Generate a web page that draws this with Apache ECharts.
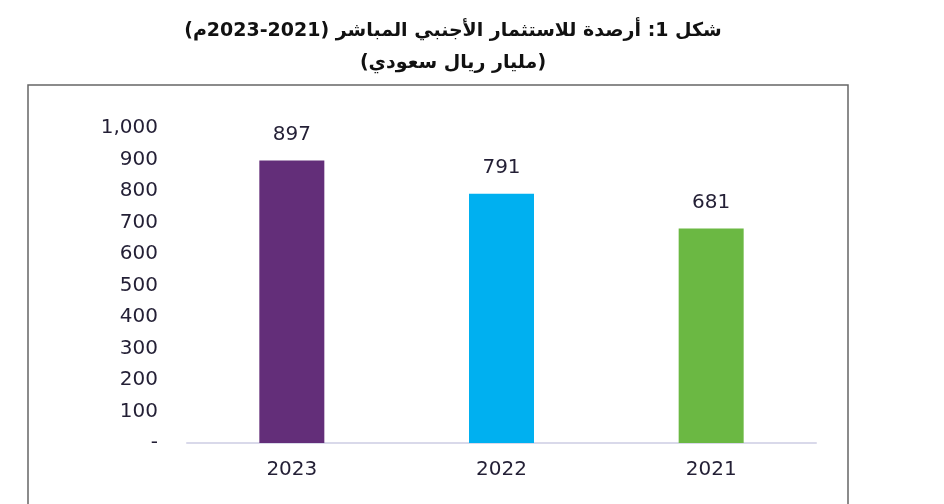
<!DOCTYPE html>
<html><head><meta charset="utf-8">
<script src="https://cdn.jsdelivr.net/npm/echarts@6/dist/echarts.min.js"></script>
<style>html,body{margin:0;padding:0;background:#fff}#c{width:944px;height:504px}</style>
</head><body><div id="c"></div>
<script>
const categories = ['2023', '2022', '2021'];
const values = [897, 791, 681];
const barColors = ['#632e79', '#00b0f0', '#6bb843'];
const yTicks = { min: 0, max: 1000, interval: 100 };
const titleLines = ['شكل 1: أرصدة للاستثمار الأجنبي المباشر (2021-2023م)', '(مليار ريال سعودي)'];

const chart = echarts.init(document.getElementById('c'), null, { renderer: 'canvas' });
chart.setOption({
  animation: false,
  backgroundColor: '#ffffff',
  graphic: [{
    type: 'rect', shape: { x: 28, y: 85, width: 820, height: 440 },
    style: { fill: 'none', stroke: '#666', lineWidth: 1.5 }, z: 0
  }],
  title: [{
    text: titleLines[0], left: 448, top: 17, textAlign: 'center',
    textStyle: { fontFamily: 'DejaVu Sans', fontWeight: 'bold', fontSize: 19, color: '#111' }
  }, {
    text: titleLines[1], left: 448, top: 49, textAlign: 'center',
    textStyle: { fontFamily: 'DejaVu Sans', fontWeight: 'bold', fontSize: 19, color: '#111' }
  }],
  grid: { left: 187, right: 128, top: 128, bottom: 61 },
  xAxis: {
    type: 'category', data: categories,
    axisLine: { lineStyle: { color: '#d9d9ea', width: 2 } },
    axisTick: { show: false },
    axisLabel: { fontFamily: 'DejaVu Sans', fontSize: 20, color: '#231f35', margin: 17 }
  },
  yAxis: {
    type: 'value', min: yTicks.min, max: yTicks.max, interval: yTicks.interval,
    splitLine: { show: false }, axisLine: { show: false }, axisTick: { show: false },
    axisLabel: {
      fontFamily: 'DejaVu Sans', fontSize: 20, color: '#231f35', margin: 29,
      formatter: v => v === 0 ? '-' : v.toLocaleString('en-US')
    }
  },
  series: [{
    type: 'bar', barWidth: 65,
    data: values.map((v, i) => ({ value: v, itemStyle: { color: barColors[i] } })),
    label: {
      show: true, position: 'top', distance: 16,
      fontFamily: 'DejaVu Sans', fontSize: 20, color: '#231f35'
    }
  }]
});
</script></body></html>
